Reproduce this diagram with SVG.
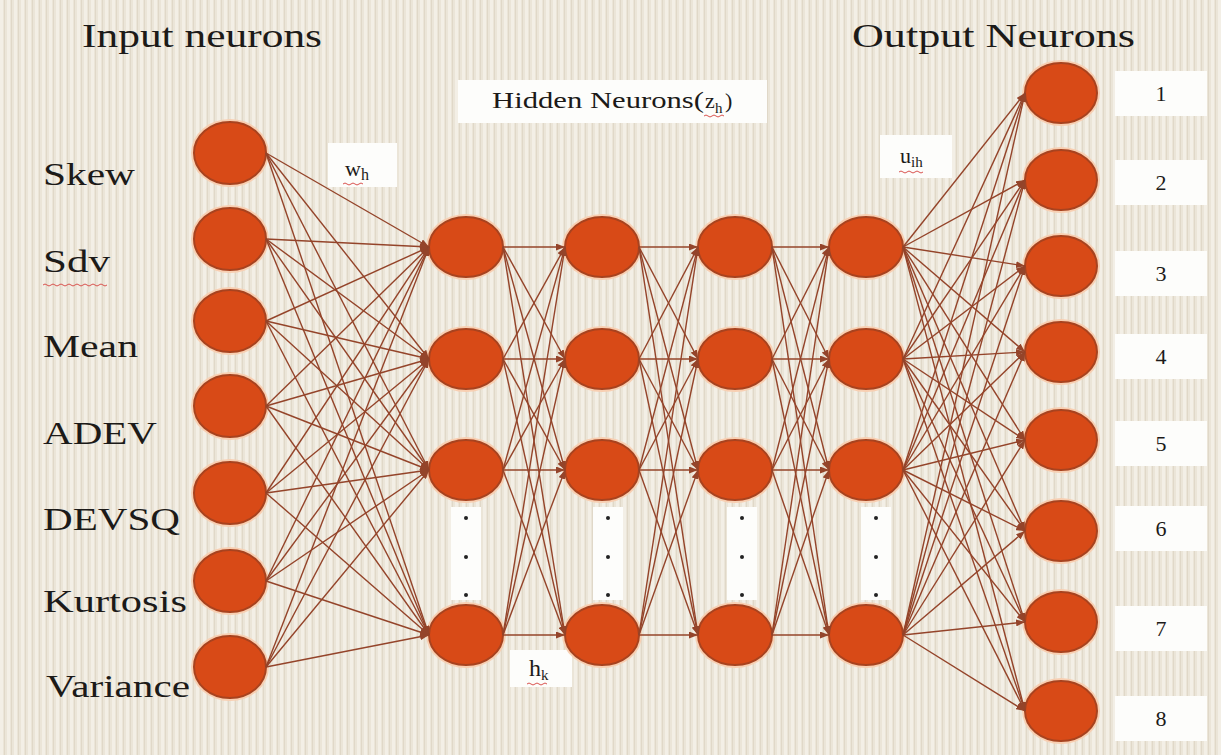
<svg xmlns="http://www.w3.org/2000/svg" width="1221" height="755" viewBox="0 0 1221 755">
<style>
.halo{fill:#f8cfb2}
.n{fill:#d84a17;stroke:#a8431f;stroke-width:2}
.t{font-family:"Liberation Serif",serif;fill:#1c1a18}
.lbl{font-size:31px}
.ttl{font-size:33px}
.box{fill:#fdfdfb}
.num{font-size:22px;text-anchor:middle}
.dot{fill:#222}
.sq{fill:none;stroke:#d9534f;stroke-width:1}
#conn line{stroke:#94442a;stroke-width:1.4;marker-end:url(#ah)}
</style>
<defs>
<pattern id="bg" width="7" height="10" patternUnits="userSpaceOnUse">
<rect width="7" height="10" fill="#ebe5d8"/>
<rect x="0" width="3" height="10" fill="#f3efe6"/>
<rect x="4" width="1" height="10" fill="#e0d8c8"/>
</pattern>
<marker id="ah" markerUnits="userSpaceOnUse" markerWidth="9" markerHeight="7" refX="9" refY="3.5" orient="auto">
<path d="M0,0 L9,3.5 L0,7 z" fill="#94442a"/>
</marker>
</defs>
<rect width="1221" height="755" fill="url(#bg)"/>

<g id="titles">
<text class="t ttl" x="82" y="47" textLength="240" lengthAdjust="spacingAndGlyphs">Input neurons</text>
<text class="t ttl" x="852" y="47" textLength="283" lengthAdjust="spacingAndGlyphs">Output Neurons</text>
</g>

<g id="input-labels">
<text class="t lbl" x="43" y="185" textLength="92" lengthAdjust="spacingAndGlyphs">Skew</text>
<text class="t lbl" x="43" y="272" textLength="67" lengthAdjust="spacingAndGlyphs">Sdv</text>
<path class="sq" d="M43,285 q2,-2 4,0 t4,0 t4,0 t4,0 t4,0 t4,0 t4,0 t4,0 t4,0 t4,0 t4,0 t4,0 t4,0 t4,0 t4,0 t4,0"/>
<text class="t lbl" x="43" y="357" textLength="95" lengthAdjust="spacingAndGlyphs">Mean</text>
<text class="t lbl" x="43" y="444" textLength="114" lengthAdjust="spacingAndGlyphs">ADEV</text>
<text class="t lbl" x="43" y="530" textLength="137" lengthAdjust="spacingAndGlyphs">DEVSQ</text>
<text class="t lbl" x="43" y="612" textLength="144" lengthAdjust="spacingAndGlyphs">Kurtosis</text>
<text class="t lbl" x="46" y="697" textLength="144" lengthAdjust="spacingAndGlyphs">Variance</text>
</g>

<g id="hidden-label">
<rect class="box" x="458" y="80" width="309" height="43"/>
<text class="t" x="492" y="108" font-size="24" textLength="212" lengthAdjust="spacingAndGlyphs">Hidden Neurons(</text>
<text class="t" x="705" y="108" font-size="22">z</text>
<text class="t" x="715" y="113" font-size="15">h</text>
<text class="t" x="725" y="108" font-size="22">)</text>
<path class="sq" d="M704,116 q2,-2 4,0 t4,0 t4,0 t4,0 t4,0"/>
</g>

<g id="weight-w">
<rect class="box" x="328" y="143" width="69" height="44"/>
<text class="t" x="345" y="176" font-size="22">w</text>
<text class="t" x="361" y="180" font-size="16">h</text>
<path class="sq" d="M343,184 q2,-2 4,0 t4,0 t4,0 t4,0 t4,0"/>
</g>

<g id="weight-u">
<rect class="box" x="880" y="135" width="72" height="43"/>
<text class="t" x="900" y="163" font-size="22">u</text>
<text class="t" x="911" y="167" font-size="15">ih</text>
<path class="sq" d="M899,172 q2,-2 4,0 t4,0 t4,0 t4,0 t4,0 t4,0"/>
</g>

<g id="weight-h">
<rect class="box" x="510" y="650" width="62" height="37"/>
<text class="t" x="529" y="676" font-size="24">h</text>
<text class="t" x="541" y="680" font-size="15">k</text>
<path class="sq" d="M527,684 q2,-2 4,0 t4,0 t4,0 t4,0 t4,0"/>
</g>

<g id="ellipsis">
<rect class="box" x="451" y="507" width="30" height="93"/>
<rect class="box" x="593" y="507" width="30" height="93"/>
<rect class="box" x="727" y="507" width="30" height="93"/>
<rect class="box" x="861" y="507" width="30" height="93"/>
<circle class="dot" cx="466" cy="518" r="2"/><circle class="dot" cx="466" cy="557" r="2"/><circle class="dot" cx="466" cy="595" r="2"/>
<circle class="dot" cx="608" cy="518" r="2"/><circle class="dot" cx="608" cy="557" r="2"/><circle class="dot" cx="608" cy="595" r="2"/>
<circle class="dot" cx="742" cy="518" r="2"/><circle class="dot" cx="742" cy="557" r="2"/><circle class="dot" cx="742" cy="595" r="2"/>
<circle class="dot" cx="876" cy="518" r="2"/><circle class="dot" cx="876" cy="557" r="2"/><circle class="dot" cx="876" cy="595" r="2"/>
</g>

<g id="output-labels">
<rect class="box" x="1115" y="71" width="92" height="45"/><text class="t num" x="1161" y="101">1</text>
<rect class="box" x="1115" y="160" width="92" height="45"/><text class="t num" x="1161" y="190">2</text>
<rect class="box" x="1115" y="251" width="92" height="45"/><text class="t num" x="1161" y="281">3</text>
<rect class="box" x="1115" y="334" width="92" height="45"/><text class="t num" x="1161" y="364">4</text>
<rect class="box" x="1115" y="421" width="92" height="45"/><text class="t num" x="1161" y="451">5</text>
<rect class="box" x="1115" y="506" width="92" height="45"/><text class="t num" x="1161" y="536">6</text>
<rect class="box" x="1115" y="606" width="92" height="45"/><text class="t num" x="1161" y="636">7</text>
<rect class="box" x="1115" y="696" width="92" height="45"/><text class="t num" x="1161" y="726">8</text>
</g>

<g id="in1"><ellipse class="halo" cx="230" cy="153" rx="39" ry="34"/><ellipse class="n" cx="230" cy="153" rx="36" ry="31"/></g>
<g id="in2"><ellipse class="halo" cx="230" cy="239" rx="39" ry="34"/><ellipse class="n" cx="230" cy="239" rx="36" ry="31"/></g>
<g id="in3"><ellipse class="halo" cx="230" cy="321" rx="39" ry="34"/><ellipse class="n" cx="230" cy="321" rx="36" ry="31"/></g>
<g id="in4"><ellipse class="halo" cx="230" cy="406" rx="39" ry="34"/><ellipse class="n" cx="230" cy="406" rx="36" ry="31"/></g>
<g id="in5"><ellipse class="halo" cx="230" cy="493" rx="39" ry="34"/><ellipse class="n" cx="230" cy="493" rx="36" ry="31"/></g>
<g id="in6"><ellipse class="halo" cx="230" cy="581" rx="39" ry="34"/><ellipse class="n" cx="230" cy="581" rx="36" ry="31"/></g>
<g id="in7"><ellipse class="halo" cx="230" cy="667" rx="39" ry="34"/><ellipse class="n" cx="230" cy="667" rx="36" ry="31"/></g>

<g id="h1-1"><ellipse class="halo" cx="466" cy="247" rx="40" ry="33"/><ellipse class="n" cx="466" cy="247" rx="37" ry="30"/></g>
<g id="h1-2"><ellipse class="halo" cx="466" cy="359" rx="40" ry="33"/><ellipse class="n" cx="466" cy="359" rx="37" ry="30"/></g>
<g id="h1-3"><ellipse class="halo" cx="466" cy="470" rx="40" ry="33"/><ellipse class="n" cx="466" cy="470" rx="37" ry="30"/></g>
<g id="h1-4"><ellipse class="halo" cx="466" cy="635" rx="40" ry="33"/><ellipse class="n" cx="466" cy="635" rx="37" ry="30"/></g>
<g id="h2-1"><ellipse class="halo" cx="602" cy="247" rx="40" ry="33"/><ellipse class="n" cx="602" cy="247" rx="37" ry="30"/></g>
<g id="h2-2"><ellipse class="halo" cx="602" cy="359" rx="40" ry="33"/><ellipse class="n" cx="602" cy="359" rx="37" ry="30"/></g>
<g id="h2-3"><ellipse class="halo" cx="602" cy="470" rx="40" ry="33"/><ellipse class="n" cx="602" cy="470" rx="37" ry="30"/></g>
<g id="h2-4"><ellipse class="halo" cx="602" cy="635" rx="40" ry="33"/><ellipse class="n" cx="602" cy="635" rx="37" ry="30"/></g>
<g id="h3-1"><ellipse class="halo" cx="735" cy="247" rx="40" ry="33"/><ellipse class="n" cx="735" cy="247" rx="37" ry="30"/></g>
<g id="h3-2"><ellipse class="halo" cx="735" cy="359" rx="40" ry="33"/><ellipse class="n" cx="735" cy="359" rx="37" ry="30"/></g>
<g id="h3-3"><ellipse class="halo" cx="735" cy="470" rx="40" ry="33"/><ellipse class="n" cx="735" cy="470" rx="37" ry="30"/></g>
<g id="h3-4"><ellipse class="halo" cx="735" cy="635" rx="40" ry="33"/><ellipse class="n" cx="735" cy="635" rx="37" ry="30"/></g>
<g id="h4-1"><ellipse class="halo" cx="866" cy="247" rx="40" ry="33"/><ellipse class="n" cx="866" cy="247" rx="37" ry="30"/></g>
<g id="h4-2"><ellipse class="halo" cx="866" cy="359" rx="40" ry="33"/><ellipse class="n" cx="866" cy="359" rx="37" ry="30"/></g>
<g id="h4-3"><ellipse class="halo" cx="866" cy="470" rx="40" ry="33"/><ellipse class="n" cx="866" cy="470" rx="37" ry="30"/></g>
<g id="h4-4"><ellipse class="halo" cx="866" cy="635" rx="40" ry="33"/><ellipse class="n" cx="866" cy="635" rx="37" ry="30"/></g>

<g id="out1"><ellipse class="halo" cx="1061" cy="93" rx="39" ry="33"/><ellipse class="n" cx="1061" cy="93" rx="36" ry="30"/></g>
<g id="out2"><ellipse class="halo" cx="1061" cy="180" rx="39" ry="33"/><ellipse class="n" cx="1061" cy="180" rx="36" ry="30"/></g>
<g id="out3"><ellipse class="halo" cx="1061" cy="266" rx="39" ry="33"/><ellipse class="n" cx="1061" cy="266" rx="36" ry="30"/></g>
<g id="out4"><ellipse class="halo" cx="1061" cy="352" rx="39" ry="33"/><ellipse class="n" cx="1061" cy="352" rx="36" ry="30"/></g>
<g id="out5"><ellipse class="halo" cx="1061" cy="440" rx="39" ry="33"/><ellipse class="n" cx="1061" cy="440" rx="36" ry="30"/></g>
<g id="out6"><ellipse class="halo" cx="1061" cy="531" rx="39" ry="33"/><ellipse class="n" cx="1061" cy="531" rx="36" ry="30"/></g>
<g id="out7"><ellipse class="halo" cx="1061" cy="622" rx="39" ry="33"/><ellipse class="n" cx="1061" cy="622" rx="36" ry="30"/></g>
<g id="out8"><ellipse class="halo" cx="1061" cy="711" rx="39" ry="33"/><ellipse class="n" cx="1061" cy="711" rx="36" ry="30"/></g>

<g id="conn">
<line x1="266" y1="153" x2="429" y2="247"/><line x1="266" y1="153" x2="429" y2="359"/><line x1="266" y1="153" x2="429" y2="470"/><line x1="266" y1="153" x2="429" y2="635"/>
<line x1="266" y1="239" x2="429" y2="247"/><line x1="266" y1="239" x2="429" y2="359"/><line x1="266" y1="239" x2="429" y2="470"/><line x1="266" y1="239" x2="429" y2="635"/>
<line x1="266" y1="321" x2="429" y2="247"/><line x1="266" y1="321" x2="429" y2="359"/><line x1="266" y1="321" x2="429" y2="470"/><line x1="266" y1="321" x2="429" y2="635"/>
<line x1="266" y1="406" x2="429" y2="247"/><line x1="266" y1="406" x2="429" y2="359"/><line x1="266" y1="406" x2="429" y2="470"/><line x1="266" y1="406" x2="429" y2="635"/>
<line x1="266" y1="493" x2="429" y2="247"/><line x1="266" y1="493" x2="429" y2="359"/><line x1="266" y1="493" x2="429" y2="470"/><line x1="266" y1="493" x2="429" y2="635"/>
<line x1="266" y1="581" x2="429" y2="247"/><line x1="266" y1="581" x2="429" y2="359"/><line x1="266" y1="581" x2="429" y2="470"/><line x1="266" y1="581" x2="429" y2="635"/>
<line x1="266" y1="667" x2="429" y2="247"/><line x1="266" y1="667" x2="429" y2="359"/><line x1="266" y1="667" x2="429" y2="470"/><line x1="266" y1="667" x2="429" y2="635"/>

<line x1="503" y1="247" x2="565" y2="247"/><line x1="503" y1="247" x2="565" y2="359"/><line x1="503" y1="247" x2="565" y2="470"/><line x1="503" y1="247" x2="565" y2="635"/>
<line x1="503" y1="359" x2="565" y2="247"/><line x1="503" y1="359" x2="565" y2="359"/><line x1="503" y1="359" x2="565" y2="470"/><line x1="503" y1="359" x2="565" y2="635"/>
<line x1="503" y1="470" x2="565" y2="247"/><line x1="503" y1="470" x2="565" y2="359"/><line x1="503" y1="470" x2="565" y2="470"/><line x1="503" y1="470" x2="565" y2="635"/>
<line x1="503" y1="635" x2="565" y2="247"/><line x1="503" y1="635" x2="565" y2="359"/><line x1="503" y1="635" x2="565" y2="470"/><line x1="503" y1="635" x2="565" y2="635"/>

<line x1="639" y1="247" x2="698" y2="247"/><line x1="639" y1="247" x2="698" y2="359"/><line x1="639" y1="247" x2="698" y2="470"/><line x1="639" y1="247" x2="698" y2="635"/>
<line x1="639" y1="359" x2="698" y2="247"/><line x1="639" y1="359" x2="698" y2="359"/><line x1="639" y1="359" x2="698" y2="470"/><line x1="639" y1="359" x2="698" y2="635"/>
<line x1="639" y1="470" x2="698" y2="247"/><line x1="639" y1="470" x2="698" y2="359"/><line x1="639" y1="470" x2="698" y2="470"/><line x1="639" y1="470" x2="698" y2="635"/>
<line x1="639" y1="635" x2="698" y2="247"/><line x1="639" y1="635" x2="698" y2="359"/><line x1="639" y1="635" x2="698" y2="470"/><line x1="639" y1="635" x2="698" y2="635"/>

<line x1="772" y1="247" x2="829" y2="247"/><line x1="772" y1="247" x2="829" y2="359"/><line x1="772" y1="247" x2="829" y2="470"/><line x1="772" y1="247" x2="829" y2="635"/>
<line x1="772" y1="359" x2="829" y2="247"/><line x1="772" y1="359" x2="829" y2="359"/><line x1="772" y1="359" x2="829" y2="470"/><line x1="772" y1="359" x2="829" y2="635"/>
<line x1="772" y1="470" x2="829" y2="247"/><line x1="772" y1="470" x2="829" y2="359"/><line x1="772" y1="470" x2="829" y2="470"/><line x1="772" y1="470" x2="829" y2="635"/>
<line x1="772" y1="635" x2="829" y2="247"/><line x1="772" y1="635" x2="829" y2="359"/><line x1="772" y1="635" x2="829" y2="470"/><line x1="772" y1="635" x2="829" y2="635"/>

<line x1="903" y1="247" x2="1025" y2="93"/><line x1="903" y1="247" x2="1025" y2="180"/><line x1="903" y1="247" x2="1025" y2="266"/><line x1="903" y1="247" x2="1025" y2="352"/><line x1="903" y1="247" x2="1025" y2="440"/><line x1="903" y1="247" x2="1025" y2="531"/><line x1="903" y1="247" x2="1025" y2="622"/><line x1="903" y1="247" x2="1025" y2="711"/>
<line x1="903" y1="359" x2="1025" y2="93"/><line x1="903" y1="359" x2="1025" y2="180"/><line x1="903" y1="359" x2="1025" y2="266"/><line x1="903" y1="359" x2="1025" y2="352"/><line x1="903" y1="359" x2="1025" y2="440"/><line x1="903" y1="359" x2="1025" y2="531"/><line x1="903" y1="359" x2="1025" y2="622"/><line x1="903" y1="359" x2="1025" y2="711"/>
<line x1="903" y1="470" x2="1025" y2="93"/><line x1="903" y1="470" x2="1025" y2="180"/><line x1="903" y1="470" x2="1025" y2="266"/><line x1="903" y1="470" x2="1025" y2="352"/><line x1="903" y1="470" x2="1025" y2="440"/><line x1="903" y1="470" x2="1025" y2="531"/><line x1="903" y1="470" x2="1025" y2="622"/><line x1="903" y1="470" x2="1025" y2="711"/>
<line x1="903" y1="635" x2="1025" y2="93"/><line x1="903" y1="635" x2="1025" y2="180"/><line x1="903" y1="635" x2="1025" y2="266"/><line x1="903" y1="635" x2="1025" y2="352"/><line x1="903" y1="635" x2="1025" y2="440"/><line x1="903" y1="635" x2="1025" y2="531"/><line x1="903" y1="635" x2="1025" y2="622"/><line x1="903" y1="635" x2="1025" y2="711"/>
</g>
</svg>
